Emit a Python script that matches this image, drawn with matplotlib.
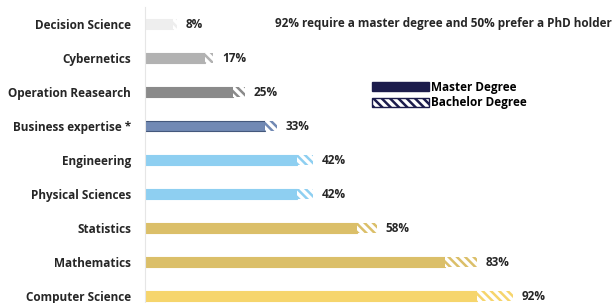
import matplotlib.pyplot as plt
from matplotlib.patches import Patch

# data
categories = ["Decision Science", "Cybernetics", "Operation Reasearch", "Business expertise *",
              "Engineering", "Physical Sciences", "Statistics", "Mathematics", "Computer Science"]
master = [7, 15, 22, 30, 38, 38, 53, 75, 83]
bachelor = [1, 2, 3, 3, 4, 4, 5, 8, 9]
totals = [8, 17, 25, 33, 42, 42, 58, 83, 92]
colors = ["#eeeeee", "#b2b2b2", "#8a8a8a", "#7189b4", "#8ecff1", "#8ecff1",
          "#dbbf69", "#dbbf69", "#f6d56c"]
edges = ["#eeeeee", "#b2b2b2", "#8a8a8a", "#44587c", "#8ecff1", "#8ecff1",
         "#dbbf69", "#dbbf69", "#f6d56c"]

plt.rcParams['font.family'] = ['Open Sans', 'DejaVu Sans']
plt.rcParams['hatch.linewidth'] = 1.8

fig = plt.figure(figsize=(6.16, 3.03), dpi=100)
ax = fig.add_axes([145 / 616, 0, 471 / 616, 1])

y = list(range(len(categories)))
ax.barh(y, master, height=0.3, color=colors, edgecolor=edges, linewidth=0.8)
for i in y:
    ax.barh(i, bachelor[i], left=master[i], height=0.3, color="white",
            edgecolor=colors[i], hatch="\\\\\\\\", linewidth=0)
    ax.text(totals[i] + 2.2, i, f"{totals[i]}%", va="center", ha="left",
            fontsize=8.5, fontweight="bold", color="#262626")

ax.set_xlim(0, 471 / 4)
ax.set_ylim((303 - 24) / 34, -24 / 34)
ax.set_yticks(y)
ax.set_yticklabels(categories, fontsize=8.5, fontweight="bold", color="#262626")
ax.tick_params(axis="y", length=0, pad=10)
ax.set_xticks([])
for s in ["top", "right", "bottom"]:
    ax.spines[s].set_visible(False)
ax.spines["left"].set_color("#e6e6e6")
ax.spines["left"].set_bounds(8.3, -0.5)

ax.text((612 - 145) / 4, 0, "92% require a master degree and 50% prefer a PhD holder",
        ha="right", va="center", fontsize=8.5, fontweight="bold", color="#262626")

handles = [Patch(facecolor="#1c1c4c", edgecolor="#1c1c4c", label="Master Degree"),
           Patch(facecolor="white", edgecolor="#1c1c4c", hatch="\\\\\\\\", label="Bachelor Degree")]
ax.legend(handles=handles, loc="center left", bbox_to_anchor=((366 - 145) / 471, 1 - 95 / 303),
          frameon=False, handlelength=4.8, handleheight=0.8,
          handletextpad=0.2, labelspacing=0.2, borderpad=0,
          prop={"weight": "bold", "size": 8.5})

fig.savefig("out.png", dpi=100)
